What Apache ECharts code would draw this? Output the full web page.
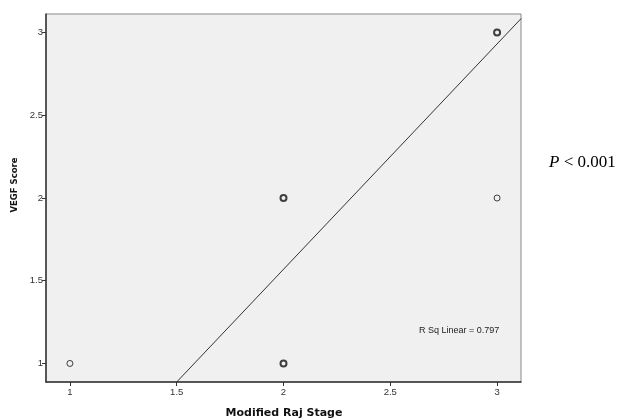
<!DOCTYPE html>
<html>
<head>
<meta charset="utf-8">
<script src="https://cdn.jsdelivr.net/npm/echarts@6/dist/echarts.min.js"></script>
<style>html,body{margin:0;padding:0;background:#fff;}#c{width:630px;height:419px;}</style>
</head>
<body>
<div id="c"></div>
<script>
// Data
var tickValues = [1, 1.5, 2, 2.5, 3];
var pointsOverlapping = [[2, 1], [2, 2], [3, 3]]; // drawn bolder (multiple cases)
var pointsSingle = [[1, 1], [3, 2]];
var fitLine = [[1.5, 0.888], [3.113, 3.085]];
var rSqLabel = 'R Sq Linear = 0.797';
var xTitle = 'Modified Raj Stage';
var yTitle = 'VEGF Score';
var pText = 'P';
var pRest = ' < 0.001';
var axisMin = 0.888, axisMax = 3.112;

var chart = echarts.init(document.getElementById('c'), null, {renderer: 'canvas'});
var axisCommon = {
  type: 'value', min: axisMin, max: axisMax,
  axisLine: {show: true, onZero: false, lineStyle: {color: '#333', width: 1.5}},
  axisTick: {show: true, length: 4, customValues: tickValues, lineStyle: {color: '#333'}},
  axisLabel: {customValues: tickValues, fontFamily: 'Liberation Sans', fontSize: 9.5, color: '#333', margin: 3},
  splitLine: {show: false}
};
chart.setOption({
  animation: false,
  grid: {left: 46, top: 14, right: 109, bottom: 37, show: true, backgroundColor: '#f0f0f0', borderColor: '#888', borderWidth: 1},
  xAxis: Object.assign({}, axisCommon, {axisLabel: Object.assign({}, axisCommon.axisLabel, {margin: 5})}),
  yAxis: Object.assign({}, axisCommon),
  series: [
    {type: 'line', data: fitLine, showSymbol: false, symbol: 'none', silent: true,
     lineStyle: {color: '#333', width: 1}, clip: true},
    {type: 'scatter', data: pointsSingle, symbol: 'circle', symbolSize: 6,
     itemStyle: {color: '#f0f0f0', borderColor: '#111', borderWidth: 1}},
    {type: 'scatter', data: pointsOverlapping, symbol: 'circle', symbolSize: 6,
     itemStyle: {color: '#f0f0f0', borderColor: '#111', borderWidth: 2}}
  ],
  graphic: [
    {type: 'text', left: 419, top: 326, style: {text: rSqLabel, fontFamily: 'Liberation Sans', fontSize: 9, fill: '#222'}},
    {type: 'text', x: 284, y: 413, style: {text: xTitle, fontFamily: 'DejaVu Sans', fontSize: 11, fontWeight: 'bold', fill: '#111', align: 'center', verticalAlign: 'middle'}},
    {type: 'text', x: 15, y: 185, rotation: Math.PI / 2, style: {text: yTitle, fontFamily: 'DejaVu Sans', fontSize: 8.5, fontWeight: 'bold', fill: '#111', align: 'center', verticalAlign: 'middle'}},
    {type: 'text', left: 549, top: 154, style: {rich: {i: {fontFamily: 'Liberation Serif', fontStyle: 'italic', fontSize: 17, fill: '#000'}, r: {fontFamily: 'Liberation Serif', fontSize: 17, fill: '#000'}}, text: '{i|' + pText + '}{r|' + pRest + '}'}}
  ]
});
</script>
</body>
</html>
